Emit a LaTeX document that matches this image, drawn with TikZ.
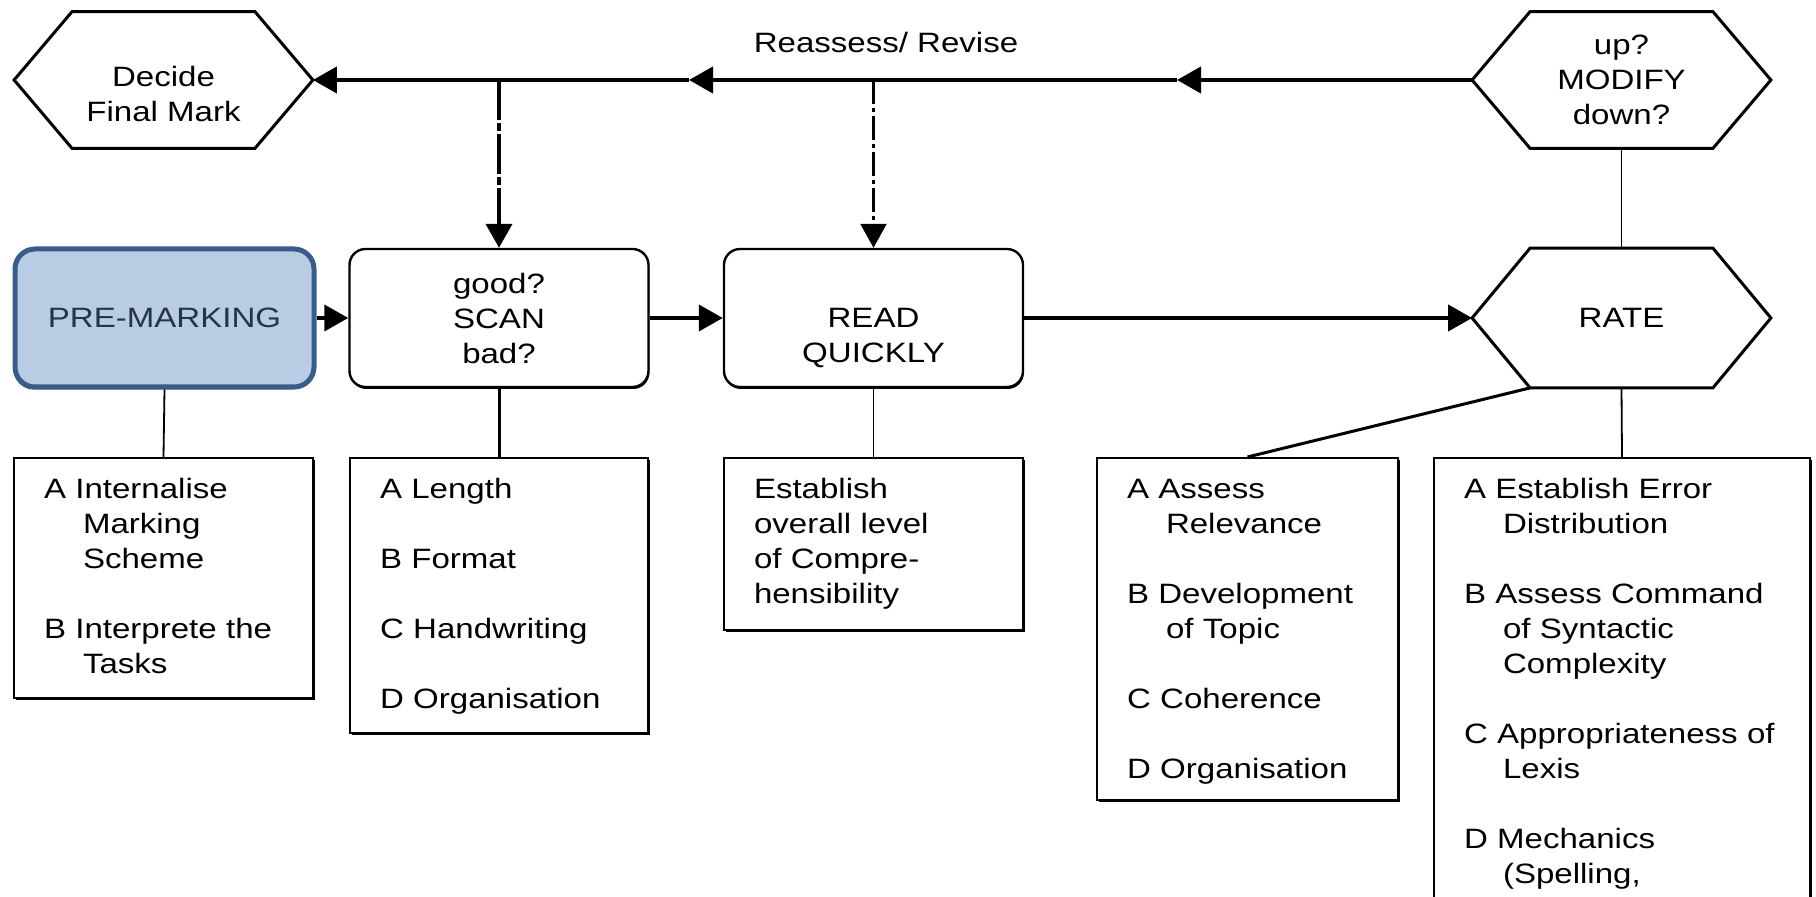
\documentclass[tikz,border=0pt]{standalone}
\usepackage{fontspec}
\setmainfont{Liberation Sans}[FakeStretch=1.18]
\usepackage{tikz}
\usetikzlibrary{arrows.meta, positioning, calc, shadows}
\definecolor{cPreFill}{RGB}{184,204,228}
\definecolor{cPreLine}{RGB}{56,93,138}
\definecolor{cPreText}{RGB}{38,52,74}
\newlength{\hexcut}
\setlength{\hexcut}{29pt}
% one lettered point of a list, later lines hang under the text
\newcommand{\listitem}[1]{\hangindent=19.5pt\hangafter=1 #1\par}
\newcommand{\listgap}{\vskip\baselineskip}
\newcommand{\drawhex}[1]{\draw[hexline] (#1.west) -- ([xshift=\hexcut]#1.north west) -- ([xshift=-\hexcut]#1.north east)
	-- (#1.east) -- ([xshift=-\hexcut]#1.south east) -- ([xshift=\hexcut]#1.south west) -- cycle;}
\tikzset{
	hexbox/.style={rectangle, minimum width=149pt, minimum height=68pt, text centered, align=center, inner sep=0pt},
	hexline/.style={line width=1.5pt, line join=miter},
	stepbox/.style={rectangle, rounded corners=8pt, minimum width=149.5pt, minimum height=69pt, text centered, align=center, draw=black, line width=1.2pt, fill=white,
		drop shadow={shadow xshift=0.4pt, shadow yshift=-1pt, fill=black, opacity=1}},
	prebox/.style={stepbox, rounded corners=10pt, draw=cPreLine, line width=2.5pt, fill=cPreFill, text=cPreText,
		drop shadow={shadow xshift=-0.6pt, shadow yshift=-1.2pt, fill=black, opacity=1}},
	listbox/.style={rectangle, anchor=north, align=left, draw=black, line width=1.2pt, fill=white, inner xsep=15pt, inner ysep=10pt, text height=10pt,
		drop shadow={shadow xshift=0.8pt, shadow yshift=-1pt, fill=black, opacity=1}},
	flowarrow/.style={-{Triangle[length=12pt, width=13pt]}, line width=2pt},
	backarrow/.style={flowarrow, dash pattern=on 20pt off 1.5pt on 4pt off 1.5pt},
	linkline/.style={line width=0.9pt},
}
\begin{document}
\begin{tikzpicture}[x=0.5pt, y=-0.5pt, font=\fontsize{14}{17.5}\selectfont]
	\useasboundingbox (0,0) rectangle (1816,897);
	\clip (0,0) rectangle (1816,897);
	% top row
	\node[hexbox] (decide) at (163.5,80) {\rule{0pt}{6.5pt}\\Decide\\Final Mark};
	\node[hexbox] (modify) at (1621.5,80) {up?\\MODIFY\\down?};
	\node (revise) at (886,43) {Reassess/ Revise};
	\drawhex{decide}
	\drawhex{modify}
	% middle row
	\node[prebox] (premark) at (164.5,318) {PRE-MARKING};
	\node[stepbox] (scan) at (499,318) {good?\\SCAN\\bad?};
	\node[stepbox] (readq) at (873.5,318) {\strut\\READ\\QUICKLY};
	\node[hexbox, minimum height=69.5pt] (rate) at (1621.5,318) {RATE};
	\drawhex{rate}
	% lists
	\node[listbox, text width=119.5pt, text depth=90pt] (listpre) at (163.5,457) {%
		\listitem{A Internalise\newline Marking\newline Scheme}\listgap
		\listitem{B Interprete the\newline Tasks}};
	\node[listbox, text width=119pt, text depth=107.5pt] (listscan) at (499,457) {%
		\listitem{A Length}\listgap
		\listitem{B Format}\listgap
		\listitem{C Handwriting}\listgap
		\listitem{D Organisation}};
	\node[listbox, text width=119.5pt, text depth=56pt] (listread) at (873.5,457) {%
		Establish\newline overall level\newline of Compre-\newline hensibility};
	\node[listbox, text width=120.5pt, text depth=141pt] (listrateA) at (1247.5,457) {%
		\listitem{A Assess\newline Relevance}\listgap
		\listitem{B Development\newline of Topic}\listgap
		\listitem{C Coherence}\listgap
		\listitem{D Organisation}};
	\node[listbox, text width=158pt, text depth=241pt] (listrateB) at (1622,457) {%
		\listitem{A Establish Error\newline Distribution}\listgap
		\listitem{B Assess Command\newline of Syntactic\newline Complexity}\listgap
		\listitem{C Appropriateness of\newline Lexis}\listgap
		\listitem{D Mechanics\newline (Spelling,}};
	% flow
	\coordinate (m1) at (1177,80);
	\coordinate (m2) at (689,80);
	\draw[flowarrow] (modify.west) -- (m1);
	\draw[flowarrow] (m1) -- (m2);
	\draw[flowarrow] (m2) -- (decide.east);
	\draw[backarrow] (scan.north |- m2) -- (scan.north);
	\draw[backarrow, line width=1.2pt, dash pattern=on 12pt off 2pt on 2pt off 2pt] (readq.north |- m2) -- (readq.north);
	\draw[flowarrow] (premark.east) -- (scan.west);
	\draw[flowarrow] (scan.east) -- (readq.west);
	\draw[flowarrow] (readq.east) -- (rate.west);
	\draw[linkline] (modify.south) -- (rate.north);
	% links to lists
	\draw[linkline] (premark.south) -- (listpre.north);
	\draw[linkline, line width=1.5pt] (scan.south) -- (listscan.north);
	\draw[linkline] (readq.south) -- (listread.north);
	\draw[linkline, line width=1.5pt] ([xshift=\hexcut]rate.south west) -- (listrateA.north);
	\draw[linkline] (rate.south) -- (listrateB.north);
\end{tikzpicture}
\end{document}
